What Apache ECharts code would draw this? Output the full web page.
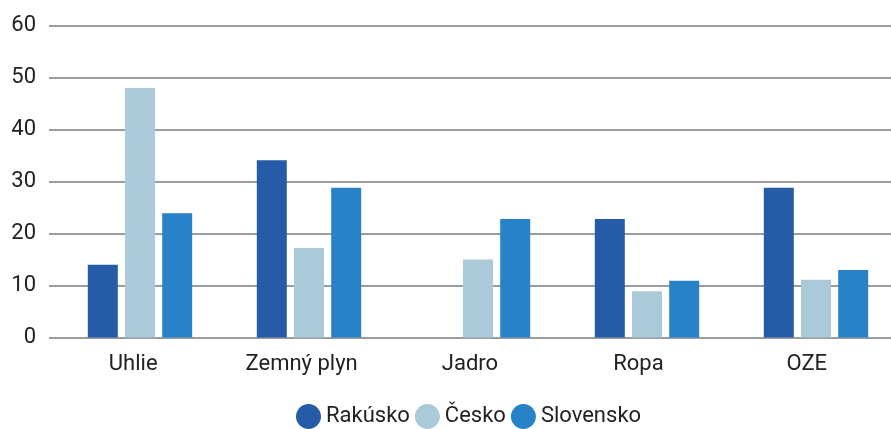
<!DOCTYPE html>
<html>
<head>
<meta charset="utf-8">
<script src="https://cdn.jsdelivr.net/npm/echarts@6/dist/echarts.min.js"></script>
<style>html,body{margin:0;padding:0;background:#fff}#c{width:891px;height:429px}</style>
</head>
<body>
<div id="c"></div>
<script>
const categories = ['Uhlie', 'Zemný plyn', 'Jadro', 'Ropa', 'OZE'];
const rakusko = [14, 34.1, null, 22.8, 28.8];
const cesko = [48, 17.2, 15, 8.9, 11.1];
const slovensko = [23.9, 28.8, 22.8, 10.9, 13];
const yTicks = [0, 10, 20, 30, 40, 50, 60];

const font = 'Roboto';
const chart = echarts.init(document.getElementById('c'));
const gTop = 25.5, gBottom = 91.5;
chart.setOption({
  animation: false,
  textStyle: { fontFamily: font },
  grid: [
    { left: 49, right: 0, top: gTop, bottom: gBottom, outerBoundsMode: 'none' },
    { left: 55.5, width: 845, top: gTop, bottom: gBottom, outerBoundsMode: 'none' }
  ],
  legend: {
    top: 404,
    left: 296,
    icon: 'circle',
    itemWidth: 25,
    itemHeight: 25,
    itemGap: 5,
    padding: 0,
    textStyle: { fontSize: 22, color: '#222', fontFamily: font },
    data: ['Rakúsko', 'Česko', 'Slovensko']
  },
  xAxis: [
    {
      gridIndex: 0, type: 'category', data: categories,
      axisLine: { show: false }, axisTick: { show: false },
      axisLabel: { fontSize: 22, color: '#222', margin: 16, fontFamily: font }
    },
    {
      gridIndex: 1, type: 'category', data: categories, show: false
    }
  ],
  yAxis: [
    {
      gridIndex: 0, type: 'value', min: yTicks[0], max: yTicks[yTicks.length - 1], interval: 10,
      axisLine: { show: false }, axisTick: { show: false },
      axisLabel: { fontSize: 22, color: '#222', margin: 13, fontFamily: font },
      splitLine: { lineStyle: { color: '#9a9da0', width: 2 } }
    },
    {
      gridIndex: 1, type: 'value', min: 0, max: 60, interval: 10, show: false,
      splitLine: { show: false }
    }
  ],
  series: [
    { name: 'Rakúsko', type: 'bar', xAxisIndex: 1, yAxisIndex: 1, data: rakusko, barWidth: 30, barGap: '24%', itemStyle: { color: '#265BA8' } },
    { name: 'Česko', type: 'bar', xAxisIndex: 1, yAxisIndex: 1, data: cesko, barWidth: 30, barGap: '24%', itemStyle: { color: '#AACAD9' } },
    { name: 'Slovensko', type: 'bar', xAxisIndex: 1, yAxisIndex: 1, data: slovensko, barWidth: 30, barGap: '24%', itemStyle: { color: '#2882C8' } }
  ]
});
</script>
</body>
</html>
